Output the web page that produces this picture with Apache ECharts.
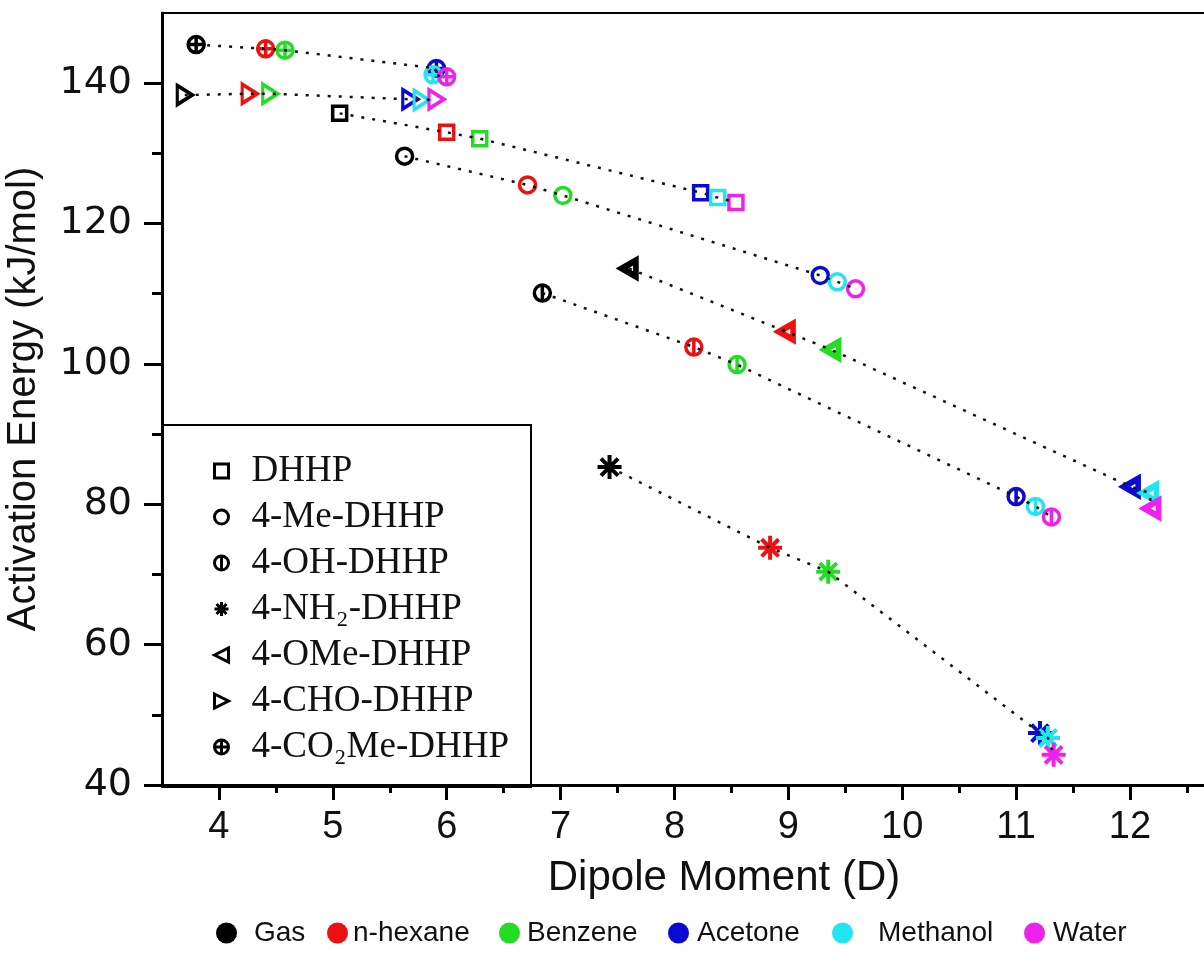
<!DOCTYPE html>
<html>
<head>
<meta charset="utf-8">
<script src="https://cdn.jsdelivr.net/npm/echarts@6/dist/echarts.min.js"></script>
<style>
  html, body { margin: 0; padding: 0; background: #fff; }
  #chart { width: 1204px; height: 970px; }
</style>
</head>
<body>
<div id="chart"></div>
<script>
// solvents -> colour (bottom legend)
const solvents = ['Gas', 'n-hexane', 'Benzene', 'Acetone', 'Methanol', 'Water'];
const solventColors = ['#000000', '#ee1111', '#22dd22', '#0a0ad2', '#22e5f0', '#ee22ee'];

// compounds -> symbol (legend in the plot)
const compounds = ['DHHP', '4-Me-DHHP', '4-OH-DHHP', '4-NH₂-DHHP', '4-OMe-DHHP', '4-CHO-DHHP', '4-CO₂Me-DHHP'];

// dipole moment (D) and activation energy (kJ/mol), order = solvents
const dhhpDipole = [5.06, 6.00, 6.29, 8.23, 8.38, 8.54];
const dhhpEnergy = [135.7, 133.0, 132.1, 124.4, 123.7, 123.0];
const meDipole = [5.63, 6.71, 7.02, 9.28, 9.43, 9.59];
const meEnergy = [129.6, 125.5, 124.0, 112.6, 111.7, 110.7];
const ohDipole = [6.84, 8.17, 8.55, 11.00, 11.17, 11.31];
const ohEnergy = [110.1, 102.4, 99.9, 81.1, 79.7, 78.2];
const nh2Dipole = [7.43, 8.84, 9.35, 11.21, 11.28, 11.33];
const nh2Energy = [85.3, 73.8, 70.4, 47.4, 46.7, 44.3];
const omeDipole = [7.60, 8.98, 9.38, 12.01, 12.17, 12.19];
const omeEnergy = [113.6, 104.6, 102.0, 82.5, 81.6, 79.4];
const choDipole = [3.70, 4.27, 4.45, 5.68, 5.78, 5.91];
const choEnergy = [138.3, 138.5, 138.5, 137.7, 137.6, 137.7];
const co2meDipole = [3.80, 4.41, 4.58, 5.91, 5.88, 6.00];
const co2meEnergy = [145.5, 144.9, 144.7, 142.1, 141.2, 140.9];

// axis ticks
const xMajor = [4, 5, 6, 7, 8, 9, 10, 11, 12];
const xMinor = [4.5, 5.5, 6.5, 7.5, 8.5, 9.5, 10.5, 11.5, 12.5];
const yMajor = [40, 60, 80, 100, 120, 140];
const yMinor = [50, 70, 90, 110, 130];

const dipoles = [dhhpDipole, meDipole, ohDipole, nh2Dipole, omeDipole, choDipole, co2meDipole];
const energies = [dhhpEnergy, meEnergy, ohEnergy, nh2Energy, omeEnergy, choEnergy, co2meEnergy];

// marker look per compound
const symbols = [
    'path://M0,0H20V20H0Z',
    'circle',
    'path://M10,0A10,10,0,1,1,10,20A10,10,0,1,1,10,0ZM10,0V20',
    'path://M10,0V20M0,10H20M2.9,2.9L17.1,17.1M17.1,2.9L2.9,17.1',
    'path://M0,10L20,0V20Z',
    'path://M0,0L20,10L0,20Z',
    'path://M10,0A10,10,0,1,1,10,20A10,10,0,1,1,10,0ZM10,0V20M0,10H20'
];
const symbolSizes = [14, 16, 16, 24, [14, 16], [15, 19], 16];
const borderWidths = [3.5, 3.5, 3.5, 4, 6, 3.5, 3.5];

// bottom legend layout (left edge of each dot, gap before its text)
const solventLegendLeft = [216, 327, 499, 668, 832, 1024];
const solventLegendGap = [12, 0, 2, 3, 20, 3];

const chart = echarts.init(document.getElementById('chart'));

const series = [];
// dotted connecting lines
compounds.forEach((c, i) => {
    series.push({
        type: 'line',
        name: c + ' line',
        silent: true,
        symbol: 'none',
        z: 3,
        data: dipoles[i].map((x, k) => [x, energies[i][k]]),
        lineStyle: { color: '#111', width: 2.5, type: [3, 8] }
    });
});
// markers
compounds.forEach((c, i) => {
    series.push({
        type: 'scatter',
        name: c,
        symbol: symbols[i],
        symbolSize: symbolSizes[i],
        z: 2,
        itemStyle: { color: 'rgba(0,0,0,0)', borderColor: '#000', borderWidth: borderWidths[i], opacity: 1 },
        data: dipoles[i].map((x, k) => ({
            value: [x, energies[i][k]],
            itemStyle: { borderColor: solventColors[k] }
        }))
    });
});
// empty series only for the solvent colour legend
solvents.forEach((s, k) => {
    series.push({ type: 'scatter', name: s, data: [], itemStyle: { color: solventColors[k], opacity: 1 } });
});

const tickFont = 'Liberation Sans, Arial, sans-serif';

const solventLegends = solvents.map((s, k) => ({
    data: [s],
    left: solventLegendLeft[k], top: 919,
    itemWidth: 21, itemHeight: 21,
    icon: 'circle',
    selectedMode: false,
    padding: 0,
    textStyle: { fontFamily: tickFont, fontSize: 28, color: '#111', padding: [0, 0, 0, solventLegendGap[k]] }
}));

chart.setOption({
    animation: false,
    backgroundColor: '#fff',
    grid: { left: 162, right: 0, top: 13, bottom: 185, containLabel: false, outerBoundsMode: 'none' },
    xAxis: [{
        type: 'value', min: 3.5, max: 12.65,
        name: 'Dipole Moment (D)', nameLocation: 'middle', nameGap: 72,
        nameTextStyle: { fontFamily: tickFont, fontSize: 42, color: '#111', padding: [0, 0, 0, 82] },
        axisLine: { lineStyle: { color: '#000', width: 3 } },
        axisTick: { customValues: xMajor, length: 15, lineStyle: { color: '#000', width: 3 } },
        axisLabel: { customValues: xMajor, margin: 24, fontFamily: tickFont, fontSize: 38, color: '#111' },
        splitLine: { show: false }
    }, {
        type: 'value', min: 3.5, max: 12.65, position: 'bottom',
        axisLine: { show: false },
        axisTick: { customValues: xMinor, length: 8, lineStyle: { color: '#000', width: 3 } },
        axisLabel: { show: false },
        splitLine: { show: false }
    }, {
        type: 'value', min: 3.5, max: 12.65, position: 'top',
        axisLine: { lineStyle: { color: '#000', width: 2 } },
        axisTick: { show: false }, axisLabel: { show: false }, splitLine: { show: false }
    }],
    yAxis: [{
        type: 'value', min: 40, max: 150,
        name: 'Activation Energy (kJ/mol)', nameLocation: 'middle', nameGap: 118,
        nameTextStyle: { fontFamily: tickFont, fontSize: 40, color: '#111' },
        axisLine: { lineStyle: { color: '#000', width: 3 } },
        axisTick: { customValues: yMajor, length: 18, lineStyle: { color: '#000', width: 3 } },
        axisLabel: { customValues: yMajor, margin: 30, fontFamily: 'DejaVu Sans, sans-serif', fontSize: 38, color: '#111' },
        splitLine: { show: false }
    }, {
        type: 'value', min: 40, max: 150, position: 'left',
        axisLine: { show: false },
        axisTick: { customValues: yMinor, length: 10, lineStyle: { color: '#000', width: 3 } },
        axisLabel: { show: false },
        splitLine: { show: false }
    }],
    legend: [{
        data: compounds,
        orient: 'vertical',
        left: 162, top: 425,
        padding: [26, 22, 20, 51],
        itemGap: 6,
        itemWidth: 14, itemHeight: 14,
        selectedMode: false,
        borderColor: '#000', borderWidth: 2,
        itemStyle: { borderWidth: 3 },
        textStyle: { fontFamily: 'Liberation Serif, Times New Roman, serif', fontSize: 37, lineHeight: 40, color: '#111', padding: [0, 0, 0, 18] }
    }].concat(solventLegends),
    series: series
});
</script>
</body>
</html>
